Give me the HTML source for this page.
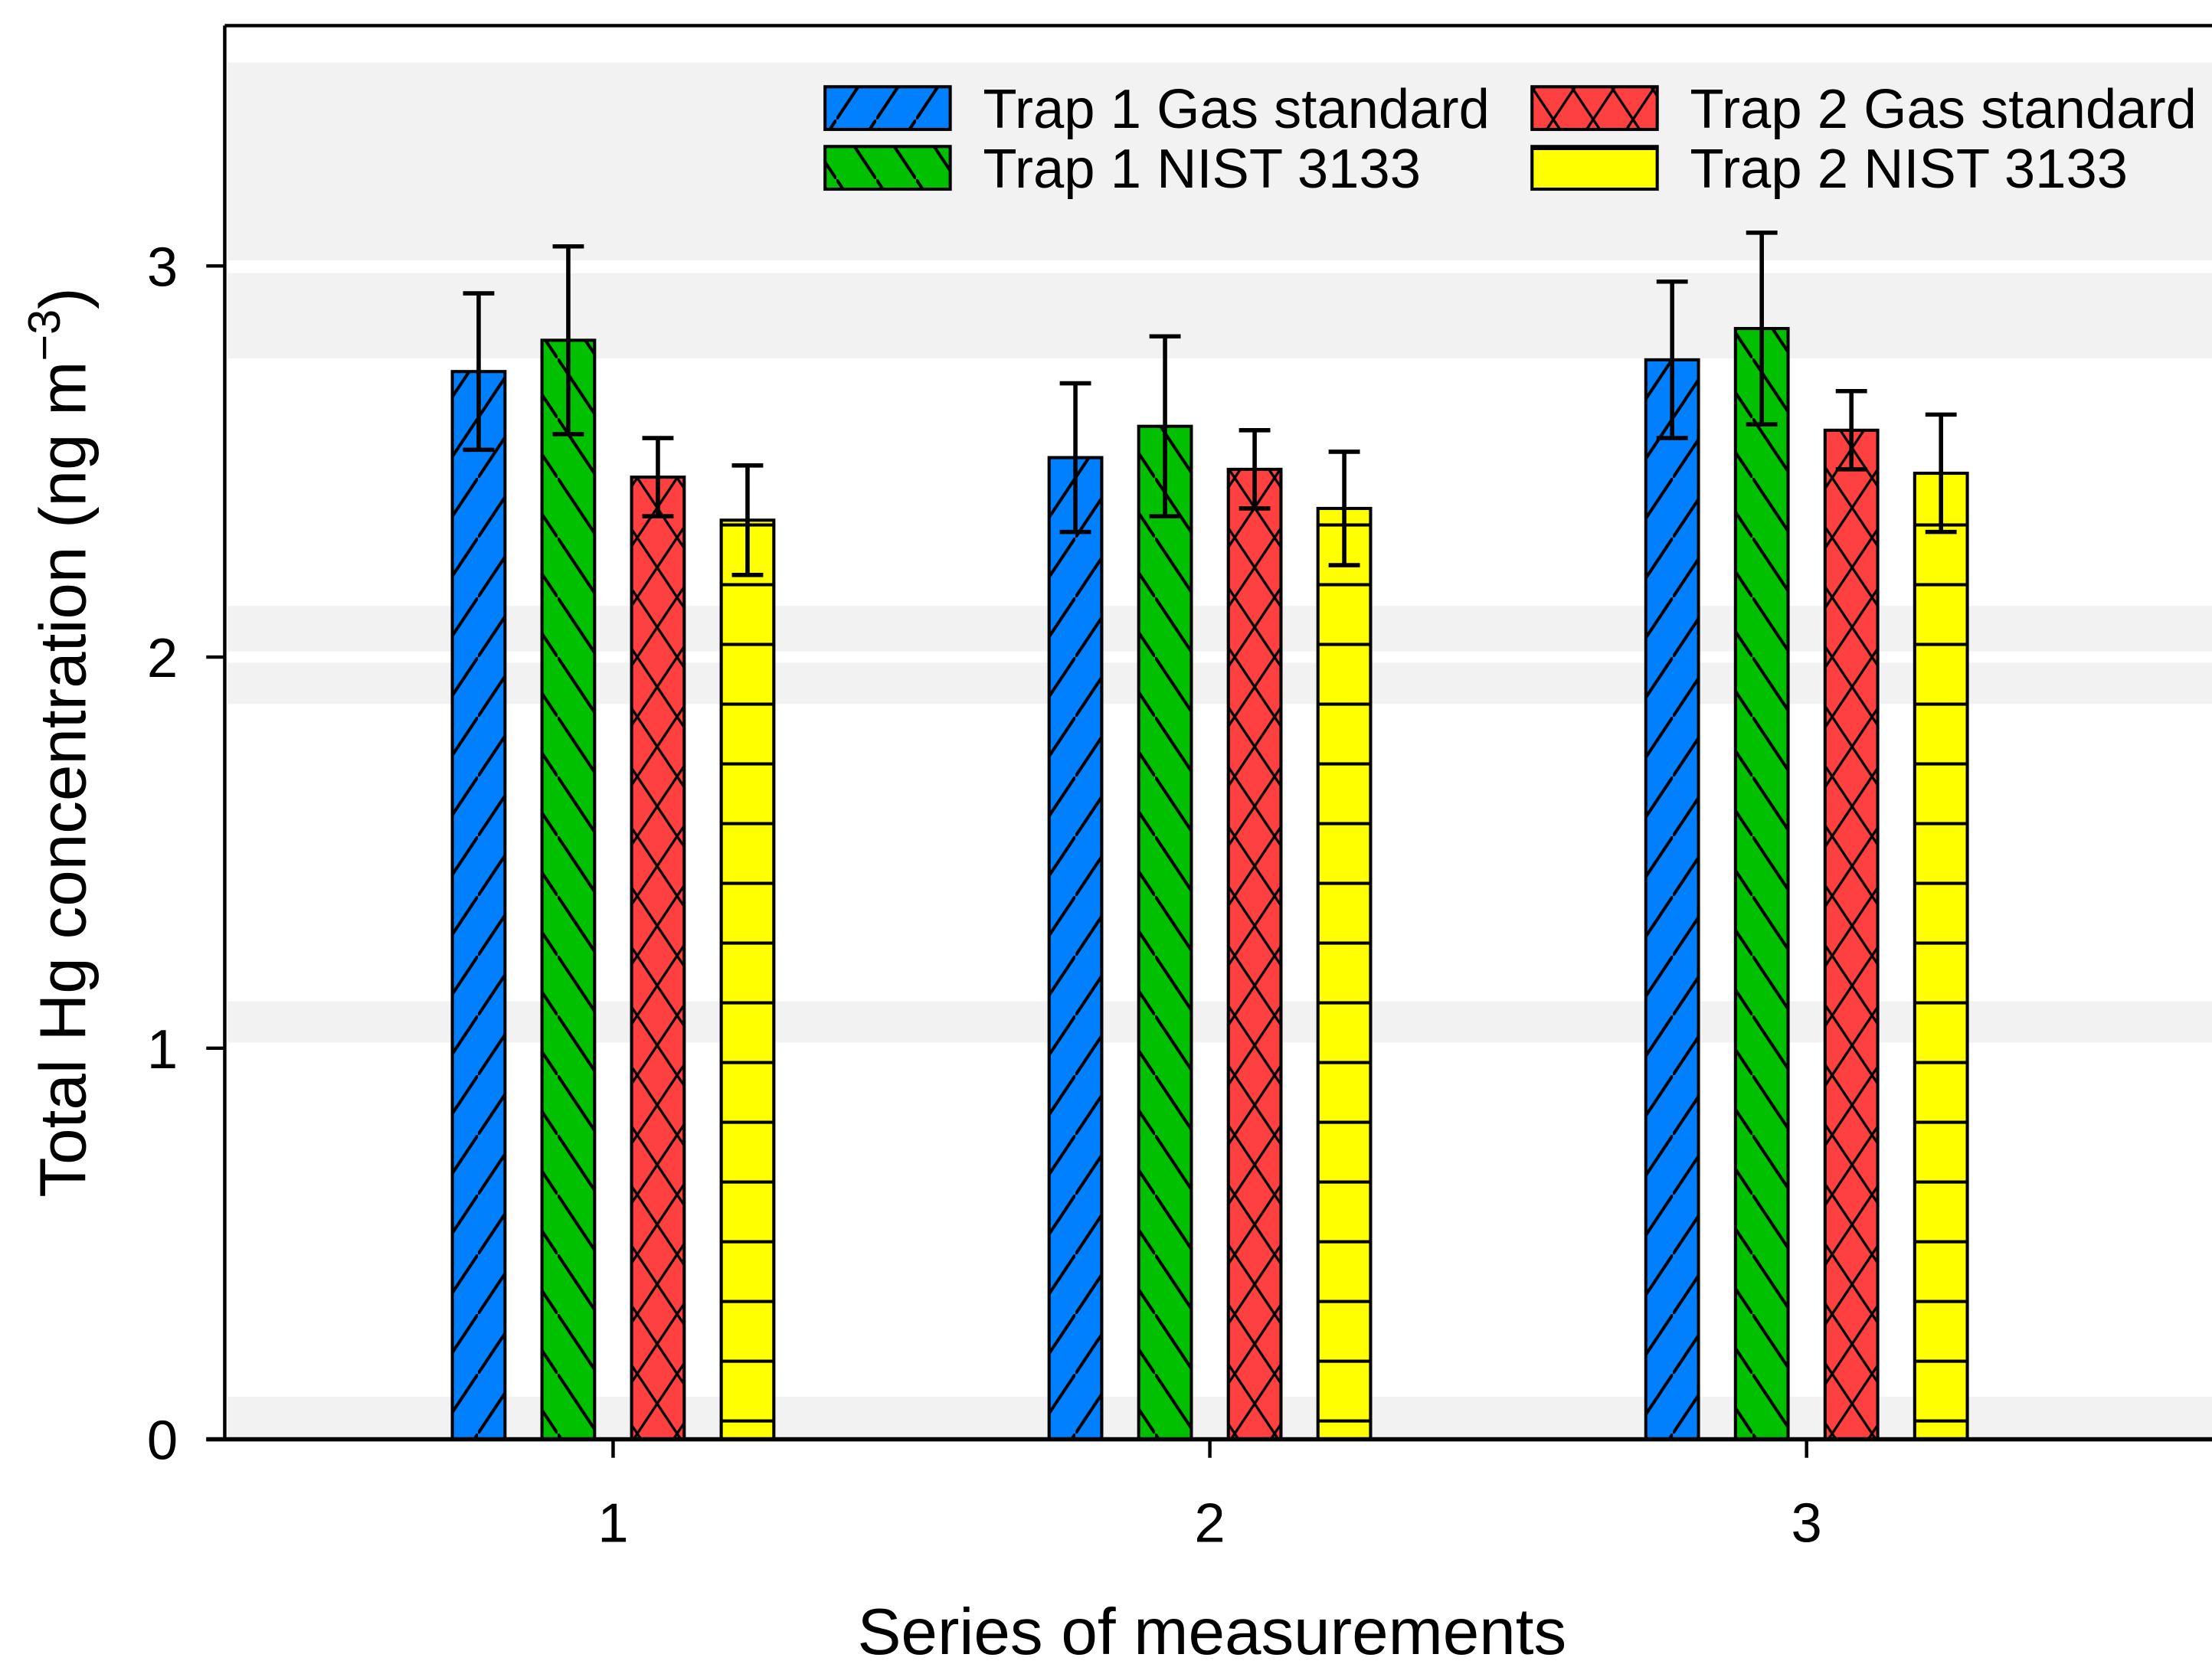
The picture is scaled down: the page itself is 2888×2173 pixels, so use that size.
<!DOCTYPE html>
<html><head><meta charset="utf-8"><style>
html,body{margin:0;padding:0;background:#fff;}
svg{display:block;font-family:"Liberation Sans",Arial,sans-serif;}
</style></head><body>
<svg id="chart" xmlns="http://www.w3.org/2000/svg" width="2888" height="2173" viewBox="0 0 1555 1170" preserveAspectRatio="none">
<defs>
<pattern id="pBlue" patternUnits="userSpaceOnUse" width="28" height="42"><rect width="28" height="42" fill="#0080ff"/><line x1="-2" y1="45" x2="30" y2="-3" stroke="#000" stroke-width="2.2"/></pattern>
<pattern id="pGreen" patternUnits="userSpaceOnUse" width="28" height="42"><rect width="28" height="42" fill="#00c000"/><line x1="-2" y1="-3" x2="30" y2="45" stroke="#000" stroke-width="2.2"/></pattern>
<pattern id="pRed" patternUnits="userSpaceOnUse" width="28" height="42"><rect width="28" height="42" fill="#ff4040"/><line x1="-2" y1="45" x2="30" y2="-3" stroke="#000" stroke-width="1.8"/><line x1="-2" y1="-3" x2="30" y2="45" stroke="#000" stroke-width="1.8"/></pattern>
<pattern id="pYellow" patternUnits="userSpaceOnUse" width="28" height="42" y="-10"><rect width="28" height="42" fill="#ffff00"/><line x1="0" y1="1" x2="28" y2="1" stroke="#000" stroke-width="2.4"/></pattern>
</defs>
<g id="bands" fill="#f2f2f2">
<rect x="160" y="44" width="1395" height="139"/><rect x="160" y="192" width="1395" height="60"/>
<rect x="160" y="426" width="1395" height="32"/><rect x="160" y="466" width="1395" height="29"/>
<rect x="160" y="704" width="1395" height="29"/><rect x="160" y="982" width="1395" height="30"/>
</g>
<g id="bars"></g>
<g id="axes" stroke="#000" stroke-width="2.4" fill="none">
<line x1="158" y1="18" x2="1555" y2="18"/>
<line x1="158" y1="18" x2="158" y2="1013"/>
<line x1="145" y1="1012" x2="1555" y2="1012" stroke-width="3"/>
</g>
<g id="ticks"></g>
<g id="legend" font-size="39">
<g><rect x="580" y="61" width="88" height="30" fill="url(#pBlue)" stroke="#000" stroke-width="2.2"/><text x="691" y="90">Trap 1 Gas standard</text></g>
<g><rect x="580" y="103" width="88" height="30" fill="url(#pGreen)" stroke="#000" stroke-width="2.2"/><text x="691" y="132">Trap 1 NIST 3133</text></g>
<g><rect x="1077" y="61" width="88" height="30" fill="url(#pRed)" stroke="#000" stroke-width="2.2"/><text x="1188" y="90">Trap 2 Gas standard</text></g>
<g><rect x="1077" y="103" width="88" height="30" fill="#ffff00" stroke="#000" stroke-width="2.2"/><line x1="1077" y1="104" x2="1165" y2="104" stroke="#000" stroke-width="3"/><text x="1188" y="132">Trap 2 NIST 3133</text></g>
</g>
<text transform="translate(60,522) rotate(-90)" text-anchor="middle" font-size="46">Total Hg concentration (ng m<tspan dy="-18" font-size="32">−3</tspan><tspan dy="18">)</tspan></text>
<text x="852" y="1163" text-anchor="middle" font-size="46">Series of measurements</text>
</svg>
<script>
const categories = ["1","2","3"];
const seriesNames = ["Trap 1 Gas standard","Trap 1 NIST 3133","Trap 2 Gas standard","Trap 2 NIST 3133"];
const trap1Gas = [2.73, 2.51, 2.76];
const trap1Nist = [2.81, 2.59, 2.84];
const trap2Gas = [2.46, 2.48, 2.58];
const trap2Nist = [2.35, 2.38, 2.47];
const trap1GasErr = [0.20, 0.19, 0.20];
const trap1NistErr = [0.24, 0.23, 0.245];
const trap2GasErr = [0.10, 0.10, 0.10];
const trap2NistErr = [0.14, 0.145, 0.15];
const yTicks = [0,1,2,3];

const NS="http://www.w3.org/2000/svg";
const y0=1012, pxPerUnit=275;
function yScale(v){return y0 - v*pxPerUnit;}
function xScale(i){return 431 + i*419.5;}
const series=[trap1Gas,trap1Nist,trap2Gas,trap2Nist];
const errs=[trap1GasErr,trap1NistErr,trap2GasErr,trap2NistErr];
const fills=["url(#pBlue)","url(#pGreen)","url(#pRed)","url(#pYellow)"];
const offsets=[-94.5,-31.5,31.5,94.5];
const bw=37;
function mk(tag,attrs,parent){const e=document.createElementNS(NS,tag);for(const k in attrs)e.setAttribute(k,attrs[k]);parent.appendChild(e);return e;}
const bars=document.getElementById('bars');
series.forEach((s,si)=>{
  s.forEach((v,ci)=>{
    const cx=xScale(ci)+offsets[si];
    const r=mk('rect',{x:cx-bw/2,y:yScale(v),width:bw,height:y0-yScale(v),fill:fills[si],stroke:'#000','stroke-width':2.2},bars);
    
    
    const e=errs[si][ci];
    const g=mk('g',{stroke:'#000','stroke-width':3},bars);
    
    
    mk('line',{x1:cx,x2:cx,y1:yScale(v+e),y2:yScale(v-e)},g);
    mk('line',{x1:cx-11,x2:cx+11,y1:yScale(v+e),y2:yScale(v+e)},g);
    mk('line',{x1:cx-11,x2:cx+11,y1:yScale(v-e),y2:yScale(v-e)},g);
  });
});
const ticks=document.getElementById('ticks');
yTicks.forEach(t=>{
  const l=mk('line',{x1:145,x2:158,y1:yScale(t),y2:yScale(t),stroke:'#000','stroke-width':2.4},ticks);
  
  
  const tx=mk('text',{x:125,y:yScale(t)+14,'text-anchor':'end','font-size':39},ticks);
  tx.textContent=t;
  
  
});
categories.forEach((c,i)=>{
  const l=mk('line',{x1:xScale(i),x2:xScale(i),y1:1012,y2:1025,stroke:'#000','stroke-width':2.4},ticks);
  
  
  const tx=mk('text',{x:xScale(i),y:1084,'text-anchor':'middle','font-size':39},ticks);
  tx.textContent=c;
  
  
});
</script>
</body></html>
